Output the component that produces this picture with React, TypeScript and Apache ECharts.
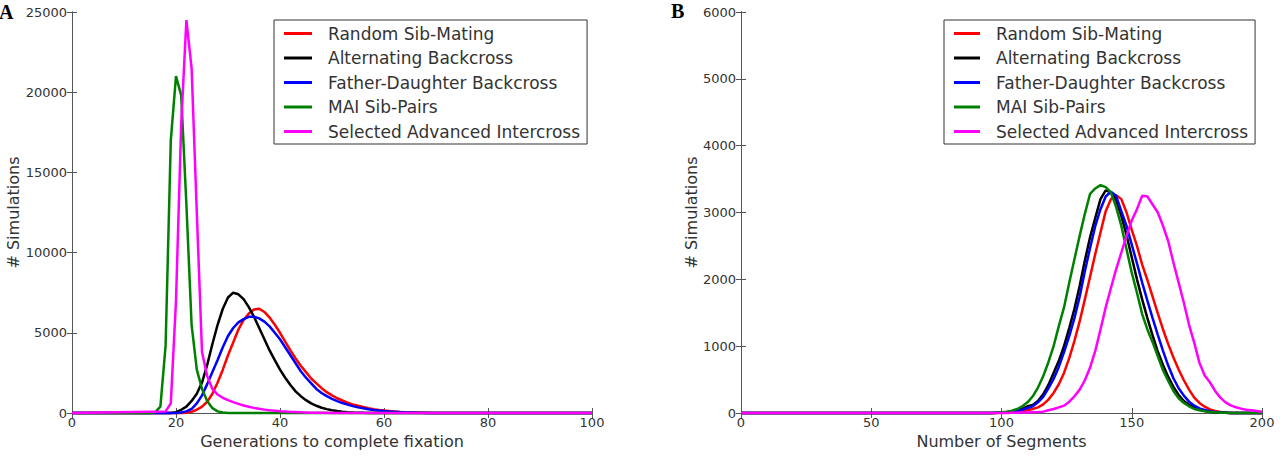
import React, { useEffect, useRef } from "react";
import * as echarts from "echarts";

const seriesNames = [
  "Random Sib-Mating",
  "Alternating Backcross",
  "Father-Daughter Backcross",
  "MAI Sib-Pairs",
  "Selected Advanced Intercross",
];
const seriesColors = ["#ff0000", "#000000", "#0000ff", "#008000", "#ff00ff"];

// Panel A: generations to complete fixation
const redAX = [0, 21, 22, 23, 24, 25, 26, 27, 28, 29, 30, 31, 32, 33, 34, 35, 36, 37, 38, 39, 40, 41, 42, 43, 44, 45, 46, 47, 48, 49, 50, 51, 52, 53, 54, 55, 56, 57, 58, 59, 60, 61, 62, 63, 64, 65, 66, 67, 68, 69, 70, 100];
const redAY = [0, 0, 20, 80, 200, 400, 700, 1200, 1900, 2700, 3600, 4400, 5200, 5800, 6200, 6450, 6500, 6300, 5950, 5500, 5000, 4450, 3900, 3400, 2950, 2550, 2150, 1850, 1550, 1300, 1100, 920, 780, 650, 540, 450, 370, 300, 240, 190, 150, 120, 90, 70, 50, 35, 25, 15, 10, 5, 0, 0];

const blackAX = [0, 19, 20, 21, 22, 23, 24, 25, 26, 27, 28, 29, 30, 31, 32, 33, 34, 35, 36, 37, 38, 39, 40, 41, 42, 43, 44, 45, 46, 47, 48, 49, 50, 51, 52, 53, 54, 55, 56, 57, 58, 100];
const blackAY = [0, 0, 50, 200, 400, 750, 1200, 1900, 3000, 4300, 5500, 6500, 7200, 7500, 7400, 7100, 6600, 6000, 5300, 4600, 3900, 3300, 2700, 2200, 1750, 1350, 1050, 800, 600, 450, 330, 240, 170, 120, 80, 50, 30, 20, 10, 5, 0, 0];

const blueAX = [0, 20, 21, 22, 23, 24, 25, 26, 27, 28, 29, 30, 31, 32, 33, 34, 35, 36, 37, 38, 39, 40, 41, 42, 43, 44, 45, 46, 47, 48, 49, 50, 51, 52, 53, 54, 55, 56, 57, 58, 59, 60, 61, 62, 63, 64, 65, 66, 67, 68, 69, 70, 100];
const blueAY = [0, 0, 30, 100, 250, 600, 1100, 1800, 2550, 3300, 4100, 4800, 5300, 5650, 5850, 6000, 6000, 5900, 5700, 5400, 5000, 4600, 4100, 3600, 3100, 2600, 2200, 1850, 1500, 1250, 1050, 880, 740, 620, 520, 430, 350, 290, 240, 190, 150, 120, 95, 75, 55, 40, 30, 20, 12, 6, 3, 0, 0];

const greenAX = [0, 15, 16, 17, 18, 19, 20, 21, 22, 23, 24, 25, 26, 27, 28, 29, 30, 100];
const greenAY = [0, 0, 50, 400, 4200, 17000, 21000, 19800, 13000, 5500, 2700, 1500, 750, 300, 100, 30, 0, 0];

const magentaAX = [0, 18, 19, 20, 21, 22, 23, 24, 25, 26, 27, 28, 29, 30, 31, 32, 33, 34, 35, 36, 37, 38, 39, 40, 41, 42, 43, 44, 45, 46, 48, 50, 100];
const magentaAY = [0, 100, 600, 7000, 18000, 24500, 21500, 12500, 3800, 2300, 1500, 1150, 950, 800, 680, 570, 470, 390, 320, 260, 210, 170, 140, 110, 90, 70, 55, 40, 30, 20, 10, 0, 0];

// Panel B: number of segments
const segX = [0, 96, 98, 100, 102, 104, 106, 108, 110, 112, 114, 116, 118, 120, 122, 124, 126, 128, 130, 132, 134, 136, 138, 140, 142, 144, 146, 148, 150, 152, 154, 156, 158, 160, 162, 164, 166, 168, 170, 172, 174, 176, 178, 180, 182, 184, 186, 188, 190, 192, 194, 196, 198, 200];
const redBY = [0, 0, 1, 3, 6, 10, 16, 25, 40, 60, 85, 130, 200, 300, 430, 600, 820, 1080, 1370, 1700, 2040, 2380, 2700, 3020, 3200, 3260, 3200, 3000, 2740, 2500, 2220, 1990, 1740, 1490, 1250, 1030, 830, 650, 490, 350, 230, 150, 95, 55, 30, 15, 8, 0, 0, 0, 0, 0, 0, 0];
const blackBY = [0, 0, 3, 6, 12, 22, 40, 65, 100, 120, 180, 280, 420, 600, 780, 1000, 1270, 1560, 1900, 2280, 2630, 2920, 3200, 3330, 3300, 3180, 2950, 2660, 2330, 2000, 1700, 1420, 1160, 920, 720, 540, 390, 270, 180, 120, 80, 50, 30, 20, 12, 6, 3, 0, 0, 0, 0, 0, 0, 0];
const blueBY = [0, 0, 2, 5, 10, 18, 30, 50, 75, 100, 160, 240, 370, 510, 690, 910, 1150, 1420, 1740, 2120, 2470, 2800, 3050, 3240, 3310, 3250, 3020, 2800, 2520, 2240, 1950, 1680, 1420, 1170, 930, 710, 520, 370, 260, 170, 110, 70, 45, 28, 16, 9, 4, 0, 0, 0, 0, 0, 0, 0];
const greenBY = [0, 0, 5, 10, 20, 35, 60, 100, 160, 250, 380, 550, 760, 1000, 1300, 1580, 1950, 2300, 2650, 2980, 3280, 3360, 3410, 3380, 3300, 3080, 2800, 2450, 2100, 1800, 1480, 1250, 1060, 850, 640, 480, 330, 220, 150, 100, 60, 40, 25, 15, 10, 5, 3, 0, 0, 0, 0, 0, 0, 0];
const magentaBY = [0, 0, 0, 0, 0, 2, 4, 6, 8, 12, 15, 20, 40, 60, 85, 110, 170, 250, 350, 490, 680, 930, 1250, 1580, 1870, 2150, 2400, 2650, 2880, 3050, 3250, 3240, 3120, 3000, 2800, 2570, 2250, 1950, 1650, 1320, 1050, 750, 560, 460, 330, 230, 160, 115, 85, 65, 50, 40, 30, 20];

const xTicksA = { min: 0, max: 100, interval: 20 };
const yTicksA = { min: 0, max: 25000, interval: 5000 };
const xTicksB = { min: 0, max: 200, interval: 50 };
const yTicksB = { min: 0, max: 6000, interval: 1000 };

const FONT = "DejaVu Sans";
const AXIS_COLOR = "#555555";
const TEXT_COLOR = "#333333";

function pairs(xs: number[], ys: number[]) {
  return xs.map((x, i) => [x, ys[i]]);
}

const plainNumber = (v: number) => String(v);

function axisBase(extra: any) {
  return {
    type: "value",
    splitLine: { show: false },
    axisLine: { show: true, lineStyle: { color: AXIS_COLOR, width: 1 } },
    axisTick: { show: true, inside: true, length: 5, lineStyle: { color: AXIS_COLOR, width: 1 } },
    axisLabel: { show: true, color: TEXT_COLOR, fontFamily: FONT, fontSize: 13, formatter: plainNumber },
    ...extra,
  };
}

export default function App() {
  const ref = useRef<HTMLDivElement>(null);
  useEffect(() => {
    document.body.style.margin = "0";
    if (!ref.current) return;
    const chart = echarts.init(ref.current, undefined, { renderer: "svg" });

    const seriesA = [
      pairs(redAX, redAY),
      pairs(blackAX, blackAY),
      pairs(blueAX, blueAY),
      pairs(greenAX, greenAY),
      pairs(magentaAX, magentaAY),
    ];
    const seriesB = [
      pairs(segX, redBY),
      pairs(segX, blackBY),
      pairs(segX, blueBY),
      pairs(segX, greenBY),
      pairs(segX, magentaBY),
    ];

    const mkSeries = (data: number[][], i: number, axisIdx: number) => ({
      type: "line",
      name: seriesNames[i],
      xAxisIndex: axisIdx,
      yAxisIndex: axisIdx,
      data,
      showSymbol: false,
      symbol: "none",
      clip: false,
      color: seriesColors[i],
      lineStyle: { color: seriesColors[i], width: 2.5 },
      z: 2 + i,
    });

    const legendBase = {
      orient: "vertical",
      icon: "rect",
      itemHeight: 3,
      itemGap: 7.5,
      borderColor: "#333333",
      borderWidth: 1,
      backgroundColor: "#ffffff",
      selectedMode: false,
      data: seriesNames,
      textStyle: {
        fontFamily: FONT,
        fontSize: 17,
        color: TEXT_COLOR,
        padding: [0, 0, 0, 11],
      },
    };

    const labelStyle = (margin: number) => ({
      show: true,
      color: TEXT_COLOR,
      fontFamily: FONT,
      fontSize: 13,
      margin,
      formatter: plainNumber,
    });
    const nameStyle = { fontFamily: FONT, fontSize: 16, color: TEXT_COLOR };

    chart.setOption({
      animation: false,
      backgroundColor: "#ffffff",
      grid: [
        { left: 72, top: 12, width: 520, height: 401 },
        { left: 741, top: 12, width: 521, height: 401 },
      ],
      xAxis: [
        axisBase({
          gridIndex: 0,
          position: "bottom",
          ...xTicksA,
          name: "Generations to complete fixation",
          nameLocation: "middle",
          nameGap: 20,
          nameTextStyle: nameStyle,
          axisLabel: labelStyle(3),
        }),
        axisBase({ gridIndex: 0, position: "top", ...xTicksA, axisLabel: { show: false } }),
        axisBase({
          gridIndex: 1,
          position: "bottom",
          ...xTicksB,
          name: "Number of Segments",
          nameLocation: "middle",
          nameGap: 20,
          nameTextStyle: nameStyle,
          axisLabel: labelStyle(3),
        }),
        axisBase({ gridIndex: 1, position: "top", ...xTicksB, axisLabel: { show: false } }),
      ],
      yAxis: [
        axisBase({
          gridIndex: 0,
          position: "left",
          ...yTicksA,
          name: "# Simulations",
          nameLocation: "middle",
          nameGap: 48,
          nameTextStyle: nameStyle,
          axisLabel: labelStyle(5),
        }),
        axisBase({ gridIndex: 0, position: "right", ...yTicksA, axisLabel: { show: false } }),
        axisBase({
          gridIndex: 1,
          position: "left",
          ...yTicksB,
          name: "# Simulations",
          nameLocation: "middle",
          nameGap: 33,
          nameTextStyle: nameStyle,
          axisLabel: labelStyle(5),
        }),
        axisBase({ gridIndex: 1, position: "right", ...yTicksB, axisLabel: { show: false } }),
      ],
      legend: [
        { ...legendBase, left: 274, top: 20, itemWidth: 28, padding: [5, 7, 4, 10] },
        { ...legendBase, left: 944, top: 20, itemWidth: 26, padding: [5, 7, 4, 10] },
      ],
      graphic: [
        {
          type: "text",
          left: -1,
          top: 2,
          style: { text: "A", fontFamily: "Liberation Serif", fontWeight: "bold", fontSize: 20, fill: "#000" },
        },
        {
          type: "text",
          left: 671,
          top: 1,
          style: { text: "B", fontFamily: "Liberation Serif", fontWeight: "bold", fontSize: 20, fill: "#000" },
        },
      ],
      series: [
        ...seriesA.map((d, i) => mkSeries(d, i, 0)),
        ...seriesB.map((d, i) => mkSeries(d, i, 2)),
      ],
    });
    return () => chart.dispose();
  }, []);
  return <div ref={ref} style={{ width: 1284, height: 464 }} />;
}
